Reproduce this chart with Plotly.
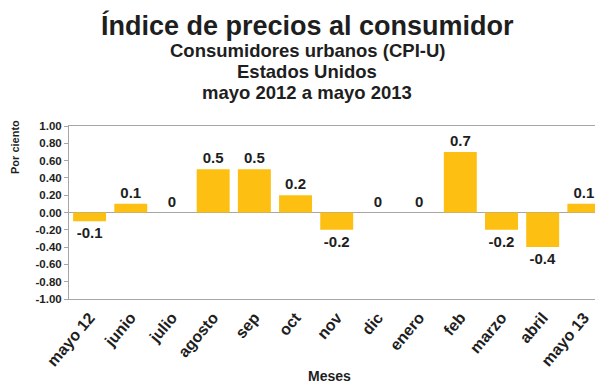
import plotly.graph_objects as go

# Monthly CPI-U change, percent
meses = ["mayo 12", "junio", "julio", "agosto", "sep", "oct", "nov",
         "dic", "enero", "feb", "marzo", "abril", "mayo 13"]
variacion = [-0.1, 0.1, 0.0, 0.5, 0.5, 0.2, -0.2, 0.0, 0.0, 0.7, -0.2, -0.4, 0.1]
y_ticks = [1.0, 0.8, 0.6, 0.4, 0.2, 0.0, -0.2, -0.4, -0.6, -0.8, -1.0]

W, H = 595, 383
L, R, T, B = 69, 0, 126, 84
PW, PH = W - L - R, H - T - B

FONT = "Liberation Sans, Arial, sans-serif"
DARK = "#1e1e1e"
GRAY = "#a6a6a6"


def px_x(x):
    return (x - L) / PW


def px_y(y):
    return (H - B - y) / PH


labels = [f"{v:g}" for v in variacion]

fig = go.Figure(go.Bar(
    x=list(range(len(meses))),
    y=variacion,
    width=0.8,
    marker=dict(color="#fcbf12", line=dict(width=0)),
    text=labels,
    textposition="outside",
    textfont=dict(family=FONT, size=15, color=DARK, weight="bold"),
    cliponaxis=False,
))

fig.update_layout(
    width=W, height=H,
    margin=dict(l=L, r=R, t=T, b=B, pad=0),
    paper_bgcolor="white", plot_bgcolor="white",
    showlegend=False,
    bargap=0.2,
    xaxis=dict(
        range=[-0.5, 12.27],
        tickmode="array",
        tickvals=list(range(len(meses))),
        ticktext=meses,
        tickangle=-50,
        tickfont=dict(family=FONT, size=16, color=DARK, weight="bold"),
        showline=True, linecolor=GRAY, linewidth=1, mirror=True,
        showgrid=False, zeroline=False,
        ticks="outside", ticklen=2, tickcolor="rgba(0,0,0,0)",
    ),
    yaxis=dict(
        range=[-1.0, 1.0],
        tickmode="array",
        tickvals=y_ticks,
        ticktext=[f"{v:.2f}" for v in y_ticks],
        tickfont=dict(family=FONT, size=11.5, color=DARK, weight="bold"),
        showline=True, linecolor=GRAY, linewidth=1,
        ticks="outside", ticklen=4, tickcolor=GRAY,
        showgrid=False,
        zeroline=True, zerolinecolor=GRAY, zerolinewidth=1,
    ),
)

cx = px_x(307)
sub = dict(family=FONT, size=18.5, color=DARK, weight="bold")
ann = [
    dict(text="Gráfica 58", x=cx, y=px_y(4), yanchor="bottom",
         font=dict(family=FONT, size=13, color=DARK, style="italic")),
    dict(text="Índice de precios al consumidor", x=cx, y=px_y(25),
         font=dict(family=FONT, size=27, color=DARK, weight="bold")),
    dict(text="Consumidores urbanos (CPI-U)", x=cx, y=px_y(50), font=sub),
    dict(text="Estados Unidos", x=cx, y=px_y(71), font=sub),
    dict(text="mayo 2012 a mayo 2013", x=cx, y=px_y(92), font=sub),
    dict(text="Por ciento", x=px_x(15), y=px_y(147), textangle=-90,
         font=dict(family=FONT, size=11, color=DARK, weight="bold")),
    dict(text="Meses", x=px_x(329), y=px_y(376),
         font=dict(family=FONT, size=14, color=DARK, weight="bold")),
]
for a in ann:
    a.update(xref="paper", yref="paper", showarrow=False)
    a.setdefault("yanchor", "middle")
    a.setdefault("xanchor", "center")
fig.update_layout(annotations=ann)

fig.write_html("out.html")
